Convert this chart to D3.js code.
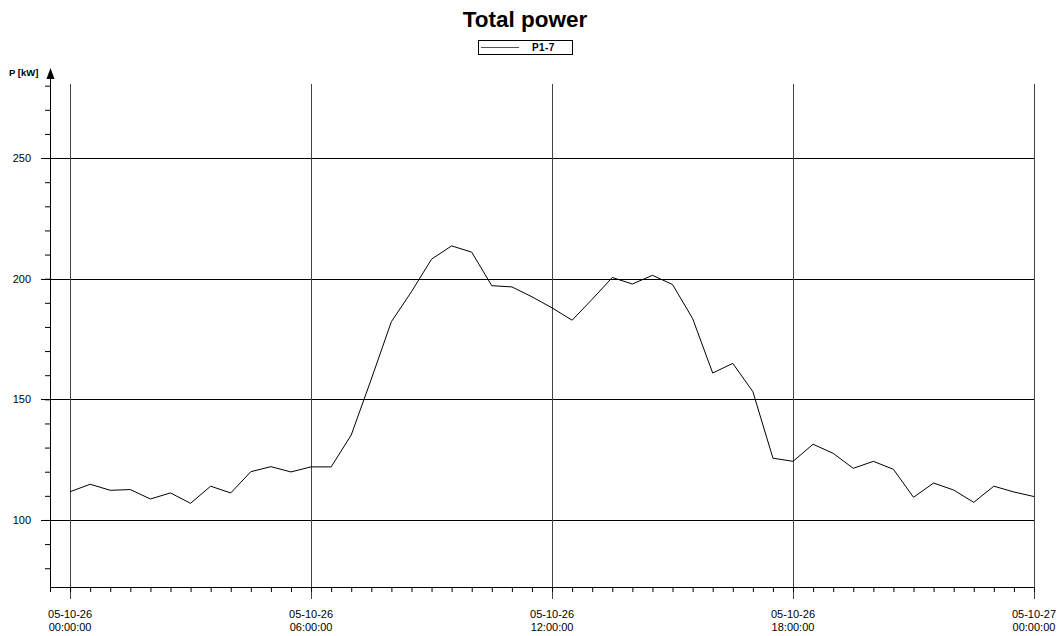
<!DOCTYPE html>
<html>
<head>
<meta charset="utf-8">
<script src="https://cdn.jsdelivr.net/npm/d3@7"></script>
<style>
  body { margin: 0; background: #fff; }
  svg { display: block; font-family: "Liberation Sans", Arial, sans-serif; }
</style>
</head>
<body>
<svg id="chart" width="1062" height="636"></svg>
<script>
// half-hourly samples, 05-10-26 00:00 .. 05-10-27 00:00
const hours = d3.range(0, 24.01, 0.5);
const power = [
  111.7, 114.8, 112.3, 112.6, 108.7, 111.2, 106.9, 114.0, 111.2, 120.0,
  122.1, 119.9, 122.0, 122.0, 135.2, 158.4, 182.2, 194.6, 208.1, 213.6,
  211.0, 197.1, 196.6, 192.5, 187.9, 182.8, 191.5, 200.5, 197.8, 201.4,
  197.6, 183.5, 160.9, 164.9, 153.2, 125.6, 124.3, 131.4, 127.6, 121.4,
  124.3, 121.0, 109.4, 115.3, 112.4, 107.3, 114.0, 111.6, 109.7
];

const majorHours = [0, 6, 12, 18, 24];
const dateLabels = ["05-10-26", "05-10-26", "05-10-26", "05-10-26", "05-10-27"];
const timeLabels = ["00:00:00", "06:00:00", "12:00:00", "18:00:00", "00:00:00"];
const yMajor = [100, 150, 200, 250];
const yMinor = d3.range(80, 281, 10);

const svg = d3.select('#chart');

const xScale = d3.scaleLinear().domain([-0.5, 24]).range([50, 1034]);
const yScale = d3.scaleLinear().domain([71.8, 286.5]).range([588, 70]);

// title + legend
svg.append('text')
  .attr('x', 525).attr('y', 27)
  .attr('text-anchor', 'middle')
  .style('font-size', '22.5px').style('font-weight', 'bold')
  .text('Total power');

const legend = svg.append('g');
legend.append('rect')
  .attr('x', 478.5).attr('y', 40.5).attr('width', 94).attr('height', 14)
  .attr('fill', 'none').attr('stroke', '#000');
legend.append('line')
  .attr('x1', 481).attr('x2', 519).attr('y1', 47.5).attr('y2', 47.5)
  .attr('stroke', '#555');
legend.append('text')
  .attr('x', 532).attr('y', 51)
  .style('font-size', '10px').style('font-weight', 'bold')
  .style('letter-spacing', '0.4px')
  .text('P1-7');

// grid
svg.append('g').selectAll('line')
  .data(yMajor)
  .enter().append('line')
    .attr('x1', 41).attr('x2', 1034)
    .attr('y1', d => Math.round(yScale(d)) + 0.5)
    .attr('y2', d => Math.round(yScale(d)) + 0.5)
    .attr('stroke', '#000');

svg.append('g').selectAll('line')
  .data(majorHours)
  .enter().append('line')
    .attr('x1', d => Math.round(xScale(d)) + 0.5)
    .attr('x2', d => Math.round(xScale(d)) + 0.5)
    .attr('y1', 84).attr('y2', 599)
    .attr('stroke', '#444');

// axes
const yAxis = d3.axisLeft(yScale)
  .tickValues(yMinor)
  .tickSize(5)
  .tickSizeOuter(0)
  .tickFormat('');
const yAxisG = svg.append('g').attr('transform', 'translate(50,0)').call(yAxis);
yAxisG.select('.domain').attr('stroke', '#000');

svg.append('path')
  .attr('d', 'M50.5,68 L46.5,79 L54.5,79 Z')
  .attr('fill', '#000');

svg.append('g').selectAll('text')
  .data(yMajor)
  .enter().append('text')
    .attr('x', 31)
    .attr('y', d => yScale(d) + 4)
    .attr('text-anchor', 'end')
    .style('font-size', '11px')
    .text(d => d);

svg.append('text')
  .attr('x', 9).attr('y', 75.5)
  .style('font-size', '9.5px').style('font-weight', 'bold')
  .text('P [kW]');

const xAxis = d3.axisBottom(xScale)
  .tickValues(d3.range(-0.5, 24.01, 0.5))
  .tickSize(5)
  .tickSizeOuter(0)
  .tickFormat('');
svg.append('g').attr('transform', 'translate(0,587)').call(xAxis);

const xLabels = svg.append('g').selectAll('text')
  .data(majorHours)
  .enter().append('text')
    .attr('text-anchor', 'middle')
    .style('font-size', '11px');
xLabels.append('tspan')
  .attr('x', d => xScale(d)).attr('y', 617.5)
  .text((d, i) => dateLabels[i]);
xLabels.append('tspan')
  .attr('x', d => xScale(d)).attr('y', 631)
  .text((d, i) => timeLabels[i]);

// series
const line = d3.line()
  .x((d, i) => xScale(hours[i]))
  .y(d => yScale(d));

svg.append('path')
  .datum(power)
  .attr('d', line)
  .attr('fill', 'none')
  .attr('stroke', '#000')
  .attr('stroke-width', 1);
</script>
</body>
</html>
